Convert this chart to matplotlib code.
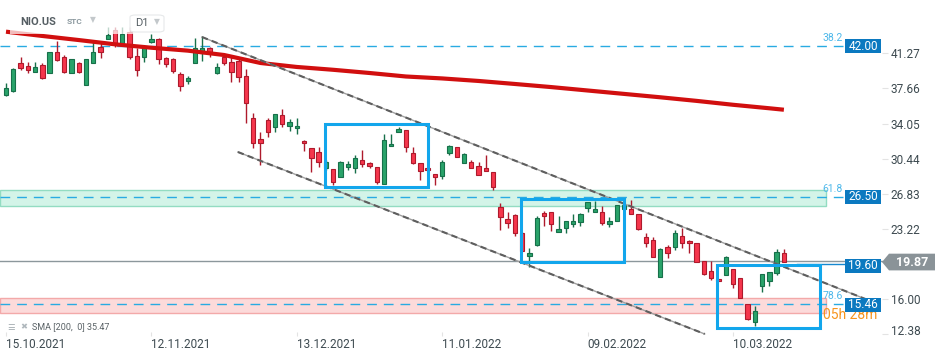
import matplotlib
matplotlib.use("Agg")
import matplotlib.pyplot as plt
import matplotlib.transforms as mtransforms
from matplotlib.patches import Rectangle, Polygon, FancyBboxPatch
import numpy as np

# ---------------- data ----------------
tick_idx = [0, 20, 40, 60, 80, 100]
tick_labels = ["15.10.2021", "12.11.2021", "13.12.2021", "11.01.2022", "09.02.2022", "10.03.2022"]

opens = [36.99, 37.43, 40.31, 40.00, 39.38, 40.07, 39.28, 41.38, 40.86, 39.28,
         40.25, 37.98, 40.31, 41.96, 42.72, 43.67, 42.30, 43.50, 41.00, 40.86,
         42.47, 42.75, 40.76, 40.66, 39.12, 38.43, 40.31, 41.34, 41.79, 39.28,
         40.93, 40.35, 40.52, 38.94, 34.59, 32.43, 34.41, 33.72, 34.93, 33.83,
         33.56, 32.25, 31.50, 31.09, 29.44, 29.34, 28.52, 29.55, 29.44, 30.27,
         29.96, 29.55, 27.80, 31.74, 33.15, 33.39, 31.05, 30.02, 29.44, 28.86,
         28.65, 30.99, 31.67, 29.96, 30.06, 29.71, 29.44, 29.03, 25.43, 24.20,
         24.64, 22.82, 20.45, 21.55, 24.81, 24.92, 22.86, 23.27, 23.68, 23.89,
         25.33, 24.92, 24.92, 23.68, 24.05, 25.23, 25.26, 24.74, 22.35, 22.07,
         18.29, 21.38, 21.32, 22.51, 21.97, 21.73, 19.94, 18.88, 18.03, 18.47,
         19.05, 18.13, 15.45, 13.66, 17.37, 17.85, 18.64, 20.70]
highs = [38.19, 39.73, 40.86, 40.41, 40.41, 40.25, 41.40, 42.57, 41.10, 40.70,
         40.41, 40.70, 42.47, 42.30, 44.01, 44.00, 44.01, 44.01, 41.79, 42.13,
         43.26, 42.80, 40.86, 40.76, 39.38, 38.97, 42.82, 43.06, 41.96, 40.31,
         41.20, 41.03, 40.76, 39.66, 35.10, 33.15, 34.59, 35.00, 35.52, 34.52,
         34.59, 32.36, 31.50, 31.67, 30.30, 29.34, 30.20, 30.20, 30.81, 31.33,
         30.12, 29.55, 32.97, 32.97, 33.66, 33.39, 31.67, 30.02, 29.68, 28.86,
         30.30, 31.84, 31.67, 31.02, 30.25, 30.06, 30.81, 29.03, 25.84, 24.98,
         24.74, 22.90, 21.21, 24.54, 25.08, 24.92, 24.54, 24.02, 24.74, 24.88,
         26.01, 26.08, 25.60, 24.47, 25.67, 25.87, 26.18, 24.74, 22.76, 22.35,
         21.21, 21.55, 23.10, 23.27, 22.07, 21.73, 19.94, 19.94, 18.03, 20.42,
         19.05, 18.13, 15.45, 15.28, 18.54, 18.74, 21.11, 21.11]
lows = [36.90, 37.33, 39.56, 39.22, 39.38, 38.60, 39.22, 40.52, 39.28, 39.28,
        39.22, 37.98, 40.25, 40.76, 42.72, 41.96, 42.23, 40.69, 38.94, 40.41,
        42.30, 40.14, 39.90, 39.22, 37.43, 38.12, 40.31, 40.52, 40.93, 39.15,
        40.07, 38.35, 38.29, 34.07, 31.50, 29.78, 32.70, 33.15, 33.72, 33.31,
        32.94, 31.26, 29.10, 29.61, 29.27, 27.73, 28.52, 29.27, 28.99, 29.61,
        29.51, 27.80, 27.80, 31.74, 33.15, 31.15, 29.86, 28.24, 29.06, 27.73,
        28.34, 30.81, 30.58, 29.96, 29.51, 28.76, 29.17, 27.21, 23.10, 23.27,
        22.51, 20.97, 19.32, 21.45, 23.51, 23.03, 22.86, 22.76, 23.44, 23.54,
        24.98, 24.92, 23.61, 23.37, 24.05, 25.16, 24.71, 23.10, 21.32, 20.35,
        18.29, 20.19, 21.04, 21.21, 20.70, 19.84, 18.47, 17.95, 17.85, 18.47,
        17.16, 16.07, 13.84, 13.22, 16.75, 17.37, 18.47, 19.84]
closes = [37.74, 39.63, 39.79, 39.56, 39.90, 38.70, 41.38, 40.59, 39.38, 40.66,
          39.38, 40.66, 41.38, 41.44, 43.16, 42.30, 43.26, 40.86, 39.56, 41.89,
          42.72, 40.66, 40.14, 39.48, 37.94, 38.70, 41.79, 41.79, 41.38, 39.90,
          40.31, 39.32, 38.81, 36.13, 32.02, 32.08, 33.15, 35.00, 34.00, 34.18,
          33.83, 32.02, 30.47, 30.06, 30.06, 28.07, 30.06, 29.86, 30.47, 29.86,
          29.71, 28.07, 32.36, 31.95, 33.49, 31.67, 29.96, 29.20, 29.27, 28.58,
          30.12, 31.74, 30.58, 30.89, 29.51, 28.76, 29.20, 27.55, 24.40, 23.85,
          22.76, 20.97, 20.70, 24.30, 24.57, 23.68, 23.20, 24.02, 24.02, 24.74,
          26.01, 25.26, 23.79, 24.02, 25.67, 25.67, 24.71, 23.17, 21.73, 20.35,
          21.11, 20.70, 22.76, 21.73, 21.73, 19.84, 18.57, 18.13, 17.88, 20.29,
          17.51, 16.13, 13.91, 14.80, 18.54, 18.74, 20.80, 19.84]

sma_idx = [0, 5, 10, 15, 20, 25, 30, 35, 40, 45, 50, 55, 60, 65, 70, 75, 80, 85, 90, 95, 100, 105, 107]
sma_vals = [43.50, 43.06, 42.64, 42.20, 41.85, 41.55, 41.10, 40.28, 39.87, 39.58, 39.25, 38.89,
            38.69, 38.43, 38.12, 37.80, 37.45, 37.10, 36.75, 36.38, 35.98, 35.62, 35.47]
sma_label = "SMA [200,  0] 35.47"

channel_upper_x = [26.96, 118.2]
channel_upper_y = [42.95, 16.0]
channel_lower_x = [31.9, 96.1]
channel_lower_y = [31.12, 12.4]

boxes = [(43.9, 27.49, 58.1, 33.99), (70.8, 19.84, 85.0, 26.26), (97.8, 13.05, 112.0, 19.50)]

fib_levels = [42.00, 26.50, 15.46]
fib_labels = ["38.2", "61.8", "78.6"]
green_zone = (25.60, 27.21)
red_zone = (14.53, 16.07)
last_price = 19.87
alert_price = 19.60

yticks = [41.27, 37.66, 34.05, 30.44, 26.83, 23.22, 16.00, 12.38]

# ---------------- style ----------------
plt.rcParams['font.family'] = ['Roboto', 'DejaVu Sans']
UP_FILL, UP_EDGE = '#29a36a', '#17704a'
DN_FILL, DN_EDGE = '#f5364c', '#ae1a2c'
FIB_BLUE = '#29abe2'
BOX_BLUE = '#0b79c0'
RECT_BLUE = '#12a6ec'

fig = plt.figure(figsize=(9.5, 3.6), dpi=100)
AX_W_PX = 888
ax = fig.add_axes([0, 1 - 336 / 360, AX_W_PX / 950, 336 / 360])
ax.set_xlim(-0.825, 121.32)
ax.set_ylim(12.19, 46.76)
for s in ax.spines.values():
    s.set_visible(False)
trans = mtransforms.blended_transform_factory(ax.transAxes, ax.transData)
def fx(px):
    return px / AX_W_PX

# zones
for (lo, hi), fc, ec in [(green_zone, '#d3f4e8', '#93dcc2'), (red_zone, '#fcdada', '#f3a9a9')]:
    ax.add_patch(Rectangle((0, lo), fx(826), hi - lo, transform=trans, facecolor=fc,
                           edgecolor=ec, lw=1, zorder=1))

# fib lines
for lvl, lab in zip(fib_levels, fib_labels):
    ax.plot([0, fx(843)], [lvl, lvl], transform=trans, color=FIB_BLUE, lw=1,
            ls=(0, (7, 5)), zorder=2)
    ax.text(fx(843), lvl + 0.85, lab, transform=trans, ha='right', va='center',
            fontsize=7.5, color='#4db8ea', zorder=6)

# current price line
ax.plot([0, fx(882)], [last_price, last_price], transform=trans, color='#8c979c', lw=1, zorder=2,
        clip_on=False)
ax.plot([fx(797), fx(845)], [alert_price, alert_price], transform=trans, color='#1688d0', lw=1, zorder=2)

# candles
idx = np.arange(len(opens))
o = np.array(opens); c = np.array(closes); h = np.array(highs); l = np.array(lows)
up = c >= o
edge = np.where(up, UP_EDGE, DN_EDGE)
fill = np.where(up, UP_FILL, DN_FILL)
ax.vlines(idx, l, h, colors=edge, lw=1, zorder=3)
body_lo = np.minimum(o, c)
body_h = np.maximum(np.abs(c - o), 0.12)
ax.bar(idx, body_h, bottom=body_lo, width=0.6, color=fill, edgecolor=edge, lw=0.8, zorder=4)

# SMA
ax.plot(sma_idx, sma_vals, color='#d10f0f', lw=3, solid_capstyle='butt', zorder=5)

# channel
for xs, ys in [(channel_upper_x, channel_upper_y), (channel_lower_x, channel_lower_y)]:
    ax.plot(xs, ys, color='#a0a0a0', lw=1.0, zorder=5)
    ax.plot(xs, ys, color='#5e5e5e', lw=1.5, ls=(0, (3, 2)), zorder=5)

# highlight boxes
for x0, y0, x1, y1 in boxes:
    ax.add_patch(Rectangle((x0, y0), x1 - x0, y1 - y0, fill=False, edgecolor=RECT_BLUE,
                           lw=2.2, zorder=6))

# countdown text (partly hidden behind the price box)
ax.text(fx(823), 14.30, "05h 28m", transform=trans, ha='left', va='center', fontsize=10,
        color='#f7941d', zorder=6, clip_on=False)

# price boxes
bh = 1.42
for val, yc in [(42.00, 42.00), (26.50, 26.50), (19.60, 19.42), (15.46, 15.38)]:
    ax.add_patch(Rectangle((fx(845), yc - bh / 2), fx(36), bh, transform=trans,
                           facecolor=BOX_BLUE, edgecolor='none', zorder=7, clip_on=False))
    ax.text(fx(863), yc, f"{val:.2f}", transform=trans, ha='center', va='center',
            fontsize=8.5, color='white', zorder=8)

# last price arrow box
gh = 1.72
yc = 19.80
pts = [(fx(882), yc), (fx(889), yc + gh / 2), (fx(935), yc + gh / 2),
       (fx(935), yc - gh / 2), (fx(889), yc - gh / 2)]
ax.add_patch(Polygon(pts, closed=True, transform=trans, facecolor='#8a9398',
                     edgecolor='none', zorder=7, clip_on=False))
ax.text(fx(912), yc, f"{last_price:.2f}", transform=trans, ha='center', va='center',
        fontsize=9, color='white', fontweight='bold', zorder=8, clip_on=False)

# axes ticks
ax.yaxis.tick_right()
ax.set_yticks(yticks)
ax.set_yticklabels([f"{v:.2f}" for v in yticks])
ax.tick_params(axis='y', direction='in', length=4, color='#e3e3e3', pad=2,
               labelsize=8.5, labelcolor='#3d4a50')
# lowest label sits a little higher in the reference
low_lab = ax.get_yticklabels()[-1]
low_lab.set_transform(low_lab.get_transform() +
                      mtransforms.ScaledTranslation(0, 4 / 100, fig.dpi_scale_trans))
ax.set_xticks(tick_idx)
ax.set_xticklabels(tick_labels)
for lab in ax.get_xticklabels():
    lab.set_horizontalalignment('left')
ax.tick_params(axis='x', direction='in', length=3, color='#e3e3e3', pad=1.5,
               labelsize=8.5, labelcolor='#3d4a50')

# header overlay
fig.add_artist(Rectangle((10 / 950, 1 - 34 / 360), 160 / 950, 27 / 360, transform=fig.transFigure,
                         facecolor='white', alpha=0.72, edgecolor='none', zorder=10))
fig.text(20 / 950, 1 - 22 / 360, "NIO.US", fontsize=8, fontweight='bold', color='#555e63',
         va='center', ha='left', zorder=11)
fig.text(67 / 950, 1 - 22 / 360, "STC", fontsize=6, fontweight='bold', color='#8d9aa0',
         va='center', ha='left', zorder=11)
fig.text(93 / 950, 1 - 20 / 360, "▼", fontsize=5.5, color='#c3c8cb', va='center', ha='center',
         family=['DejaVu Sans'], zorder=11)
fig.add_artist(FancyBboxPatch((130 / 950, 1 - 32 / 360), 34 / 950, 17 / 360,
                              boxstyle="round,pad=0,rounding_size=0.006",
                              transform=fig.transFigure, facecolor='white', alpha=0.8,
                              edgecolor='#e0e3e5', lw=0.8, zorder=11))
fig.text(135 / 950, 1 - 23 / 360, "D1", fontsize=8, color='#555e63', va='center', ha='left', zorder=12)
fig.text(157 / 950, 1 - 22 / 360, "▼", fontsize=5.5, color='#c3c8cb', va='center', ha='center',
         family=['DejaVu Sans'], zorder=12)

# SMA legend
fig.text(7 / 950, 1 - 327 / 360, "☰", fontsize=6, color='#a0a8ad', va='center', ha='left',
         family=['DejaVu Sans'], zorder=11)
fig.text(20 / 950, 1 - 327 / 360, "✖", fontsize=6, color='#b0b8bd', va='center', ha='left',
         family=['DejaVu Sans'], zorder=11)
fig.text(32 / 950, 1 - 327 / 360, sma_label, fontsize=6.5, color='#5a6266', va='center',
         ha='left', zorder=11)

fig.savefig("out.png", dpi=100)
